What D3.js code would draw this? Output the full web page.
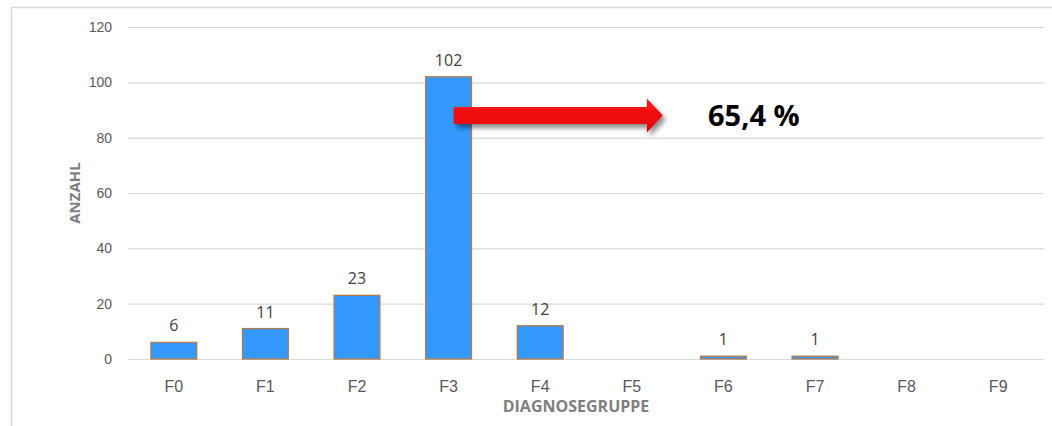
<!DOCTYPE html>
<html>
<head>
<meta charset="utf-8">
<script src="https://cdn.jsdelivr.net/npm/d3@7"></script>
<style>
  html, body { margin: 0; padding: 0; background: #fff; }
  svg { display: block; font-family: "Open Sans", "Noto Sans", sans-serif; }
</style>
</head>
<body>
<svg id="chart" width="1052" height="426"></svg>
<script>
// Diagnosis groups and case counts
const categories = ["F0", "F1", "F2", "F3", "F4", "F5", "F6", "F7", "F8", "F9"];
const counts = [6, 11, 23, 102, 12, 0, 1, 1, 0, 0];
const yTicks = [0, 20, 40, 60, 80, 100, 120];
const xTitle = "DIAGNOSEGRUPPE";
const yTitle = "ANZAHL";
// Highlighted group and the height (in counts) at which the arrow is drawn
const highlight = "F3";
const arrowLevel = 88;

const svg = d3.select("#chart");
const W = 1052, H = 426;
const margin = { left: 128, right: 8, top: 27, bottom: 67 };

// Frame
svg.append("path")
  .attr("d", `M11.5,${H} V7.5 H${W}`)
  .attr("fill", "none").attr("stroke", "#d9d9d9").attr("stroke-width", 1.5);

const x = d3.scaleBand().domain(categories)
  .range([margin.left, W - margin.right]).paddingInner(0.5).paddingOuter(0.25);
const y = d3.scaleLinear().domain([0, 120]).range([H - margin.bottom, margin.top]);

// Gridlines and y labels
const yAxis = d3.axisLeft(y).tickValues(yTicks)
  .tickSize(-(W - margin.right - margin.left)).tickPadding(16);
const gy = svg.append("g").attr("transform", `translate(${margin.left},0)`).call(yAxis);
gy.select(".domain").remove();
gy.selectAll(".tick line").attr("stroke", "#d9d9d9").attr("stroke-width", 1.2);
gy.selectAll(".tick text").attr("fill", "#595959").style("font-size", "14px");

// X labels
const xAxis = d3.axisBottom(x).tickSize(0).tickPadding(22);
const gx = svg.append("g").attr("transform", `translate(0,${y(0)})`).call(xAxis);
gx.select(".domain").remove();
gx.selectAll(".tick text").attr("fill", "#595959").style("font-size", "16px");

// Bars
const rows = categories.map((c, i) => ({ c, v: counts[i] })).filter(d => d.v > 0);
svg.append("g").selectAll("rect").data(rows)
  .join("rect")
  .attr("x", d => x(d.c))
  .attr("y", d => y(d.v))
  .attr("width", x.bandwidth())
  .attr("height", d => y(0) - y(d.v))
  .attr("fill", "#3399ff")
  .attr("stroke", "#b47a48").attr("stroke-width", 1.3);

// Value labels
svg.append("g").selectAll("text").data(rows)
  .join("text")
  .attr("x", d => x(d.c) + x.bandwidth() / 2)
  .attr("y", d => y(d.v) - 11)
  .attr("text-anchor", "middle")
  .attr("fill", "#404040").style("font-size", "16px")
  .text(d => d.v);

// Axis titles (x title sits on a white backing that overlaps the tick labels)
const xt = svg.append("g").attr("transform", `translate(${(margin.left + W - margin.right) / 2 - 10},412)`);
xt.append("rect").attr("x", -85).attr("y", -19).attr("width", 170).attr("height", 25).attr("fill", "#fff");
xt.append("text").attr("text-anchor", "middle").attr("fill", "#7f7f7f")
  .style("font-size", "16px").style("font-weight", "bold").text(xTitle);

svg.append("text")
  .attr("transform", `translate(80,${(y(0) + y(120)) / 2}) rotate(-90)`)
  .attr("text-anchor", "middle").attr("fill", "#7f7f7f")
  .style("font-size", "15px").style("font-weight", "bold").text(yTitle);

// Arrow with share of the highlighted group
const total = d3.sum(counts);
const share = counts[categories.indexOf(highlight)] / total * 100;
const defs = svg.append("defs");
const f = defs.append("filter").attr("id", "shadow").attr("x", "-10%").attr("y", "-50%").attr("width", "130%").attr("height", "250%");
f.append("feDropShadow").attr("dx", 3).attr("dy", 4).attr("stdDeviation", 2.5)
  .attr("flood-color", "#000").attr("flood-opacity", 0.45);
const grad = defs.append("linearGradient").attr("id", "red").attr("x1", 0).attr("y1", 0).attr("x2", 0).attr("y2", 1);
grad.append("stop").attr("offset", "0%").attr("stop-color", "#ff1a1a");
grad.append("stop").attr("offset", "100%").attr("stop-color", "#e00000");

const ax0 = x(highlight) + 28, ax1 = x("F5") + 54, ay = y(arrowLevel);
const headLen = 16, shaftH = 8.5, headH = 17;
svg.append("path")
  .attr("d", `M${ax0},${ay - shaftH} H${ax1 - headLen} V${ay - headH} L${ax1},${ay} L${ax1 - headLen},${ay + headH} V${ay + shaftH} H${ax0} Z`)
  .attr("fill", "url(#red)").attr("filter", "url(#shadow)");

svg.append("text")
  .attr("x", 708).attr("y", ay + 10)
  .attr("fill", "#000").style("font-size", "29px").style("font-weight", "bold")
  .text(share.toFixed(1).replace(".", ",") + " %");
</script>
</body>
</html>
